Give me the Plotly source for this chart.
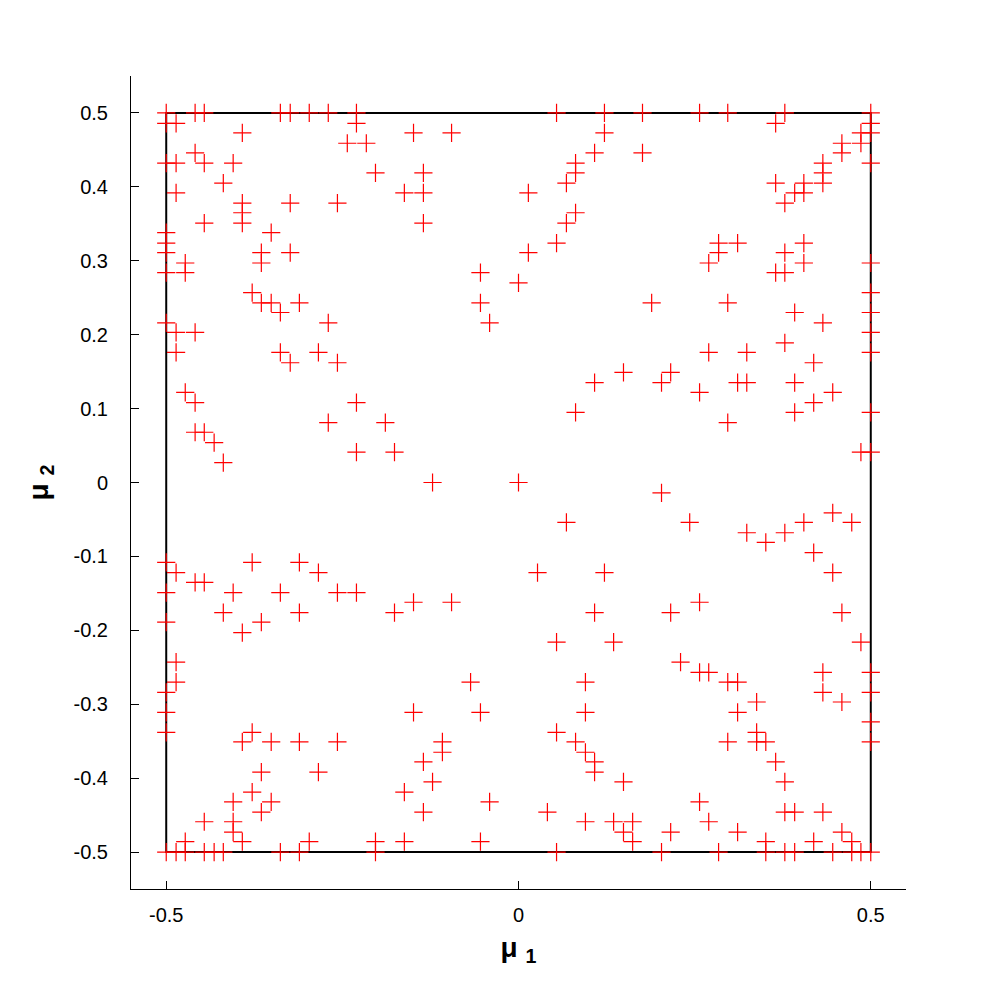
import plotly.graph_objects as go

# upper band of the sample set (mu2 from 0.5 down to 0.176)
mu1_upper = [
    -0.5, -0.459, -0.446, -0.338, -0.324, -0.297, -0.270, -0.230, 0.054, 0.122, 0.176, 0.257, 0.297, 0.378, 0.5,
    -0.5, -0.486, -0.230, 0.365, 0.5,
    -0.392, -0.149, -0.095, 0.122, 0.486, 0.5,
    -0.243, -0.216, 0.459, 0.486,
    -0.459, 0.108, 0.176, 0.459,
    -0.5, -0.486, -0.446, -0.405, 0.081, 0.432, 0.5,
    -0.203, -0.135, 0.081, 0.432,
    -0.419, 0.068, 0.365, 0.405, 0.432,
    -0.486, -0.162, -0.135, 0.014, 0.392, 0.405,
    -0.392, -0.324, -0.257, 0.378,
    -0.392, 0.081,
    -0.446, -0.392, -0.135, 0.068,
    -0.5, -0.351,
    -0.5, 0.054, 0.284, 0.311, 0.405,
    -0.5, -0.365, -0.324, 0.014, 0.284, 0.378,
    -0.473, -0.365, 0.270, 0.405, 0.5,
    -0.5, -0.473, -0.054, 0.365, 0.378,
    0.0,
    -0.378, 0.5,
    -0.365, -0.351, -0.311, -0.054, 0.189, 0.297,
    -0.338, 0.392, 0.5,
    -0.5, -0.270, -0.041, 0.432,
    -0.486, -0.459, 0.5,
    0.378,
    -0.486, -0.338, -0.284, 0.270, 0.324, 0.5,
]
mu2_upper = (
    [0.5] * 15 + [0.486] * 5 + [0.473] * 6 + [0.459] * 4 + [0.446] * 4
    + [0.432] * 7 + [0.419] * 4 + [0.405] * 5 + [0.392] * 6 + [0.378] * 4
    + [0.365] * 2 + [0.351] * 4 + [0.338] * 2 + [0.324] * 5 + [0.311] * 6
    + [0.297] * 5 + [0.284] * 5 + [0.270] * 1 + [0.257] * 2 + [0.243] * 6
    + [0.230] * 3 + [0.216] * 4 + [0.203] * 3 + [0.189] * 1 + [0.176] * 6
)

# middle band (mu2 from 0.162 down to -0.162)
mu1_middle = [
    -0.324, -0.257, 0.419,
    0.149, 0.216,
    0.108, 0.203, 0.311, 0.324, 0.392,
    -0.473, 0.257, 0.446,
    -0.459, -0.230, 0.419,
    0.081, 0.392, 0.5,
    -0.270, -0.189, 0.297,
    -0.459, -0.446,
    -0.432,
    -0.230, -0.176, 0.486, 0.5,
    -0.419,
    -0.122, 0.0,
    0.203,
    0.446,
    0.068, 0.243, 0.405, 0.473,
    0.324, 0.378,
    0.351,
    0.419,
    -0.5, -0.378, -0.311,
    -0.486, -0.284, 0.027, 0.122, 0.446,
    -0.459, -0.446,
    -0.5, -0.405, -0.338, -0.257, -0.230,
    -0.149, -0.095, 0.257,
]
mu2_middle = (
    [0.162] * 3 + [0.149] * 2 + [0.135] * 5 + [0.122] * 3 + [0.108] * 3
    + [0.095] * 3 + [0.081] * 3 + [0.068] * 2 + [0.054] * 1 + [0.041] * 4
    + [0.027] * 1 + [0.0] * 2 + [-0.014] * 1 + [-0.041] * 1 + [-0.054] * 4
    + [-0.068] * 2 + [-0.081] * 1 + [-0.095] * 1 + [-0.108] * 3 + [-0.122] * 5
    + [-0.135] * 2 + [-0.149] * 5 + [-0.162] * 3
)

# lower band (mu2 from -0.176 down to -0.5)
mu1_lower = [
    -0.419, -0.311, -0.176, 0.108, 0.216, 0.459,
    -0.5, -0.365,
    -0.392,
    0.054, 0.135, 0.486,
    -0.486, 0.230,
    0.257, 0.270, 0.432, 0.5,
    -0.486, -0.068, 0.095, 0.297, 0.311,
    -0.5, 0.432, 0.5,
    0.338, 0.459,
    -0.5, -0.149, -0.054, 0.095, 0.311,
    0.5,
    -0.5, -0.378, 0.054, 0.338,
    -0.392, -0.351, -0.311, -0.257, -0.108, 0.081, 0.297, 0.338, 0.351, 0.5,
    -0.108, 0.095,
    -0.135, 0.108, 0.365,
    -0.365, -0.284, 0.108,
    -0.122, 0.149, 0.378,
    -0.378, -0.162,
    -0.405, -0.351, -0.041, 0.257,
    -0.365, -0.135, 0.041, 0.378, 0.392, 0.432,
    -0.446, -0.405, 0.095, 0.135, 0.162, 0.270,
    -0.405, 0.149, 0.216, 0.311, 0.459,
    -0.473, -0.392, -0.297, -0.203, -0.162, -0.054, 0.162, 0.351, 0.419, 0.473,
    -0.5, -0.486, -0.473, -0.446, -0.432, -0.419, -0.338, -0.311, -0.203, 0.054,
    0.203, 0.284, 0.351, 0.378, 0.392, 0.446, 0.473, 0.486, 0.5,
]
mu2_lower = (
    [-0.176] * 6 + [-0.189] * 2 + [-0.203] * 1 + [-0.216] * 3 + [-0.243] * 2
    + [-0.257] * 4 + [-0.270] * 5 + [-0.284] * 3 + [-0.297] * 2 + [-0.311] * 5
    + [-0.324] * 1 + [-0.338] * 4 + [-0.351] * 10 + [-0.365] * 2 + [-0.378] * 3
    + [-0.392] * 3 + [-0.405] * 3 + [-0.419] * 2 + [-0.432] * 4 + [-0.446] * 6
    + [-0.459] * 6 + [-0.473] * 5 + [-0.486] * 10 + [-0.5] * 19
)

x_ticks = [-0.5, 0, 0.5]
x_tick_text = ['-0.5', '0', '0.5']
y_ticks = [0.5, 0.4, 0.3, 0.2, 0.1, 0, -0.1, -0.2, -0.3, -0.4, -0.5]
y_tick_text = ['0.5', '0.4', '0.3', '0.2', '0.1', '0', '-0.1', '-0.2', '-0.3', '-0.4', '-0.5']

mu1 = mu1_upper + mu1_middle + mu1_lower
mu2 = mu2_upper + mu2_middle + mu2_lower

fig = go.Figure()

# parameter domain boundary
fig.add_shape(type='rect', x0=-0.5, x1=0.5, y0=-0.5, y1=0.5,
              line=dict(color='black', width=2), layer='below')

fig.add_trace(go.Scatter(
    x=mu1, y=mu2, mode='markers',
    marker=dict(symbol='cross-thin', size=13, color='red',
                line=dict(color='red', width=1.2)),
    hoverinfo='x+y',
))

axis_font = dict(family='Liberation Sans, Arial', size=20, color='black')
title_font = dict(family='Liberation Sans, Arial', size=28, color='black')

# margins allow for the 8px page margin of the browser
fig.update_layout(
    width=999, height=1000,
    margin=dict(l=123, r=101, t=68, b=119),
    plot_bgcolor='white', paper_bgcolor='white',
    showlegend=False,
    xaxis=dict(range=[-0.55, 0.55], tickvals=x_ticks, ticktext=x_tick_text,
               showline=True, linecolor='black', linewidth=1,
               ticks='inside', ticklen=8, tickcolor='black',
               showgrid=False, zeroline=False, tickfont=axis_font,
               ticklabelstandoff=8, automargin=False,
               title=dict(text='<b>μ</b> <sub><b>1</b></sub>', font=title_font, standoff=12)),
    yaxis=dict(range=[-0.55, 0.55], tickvals=y_ticks, ticktext=y_tick_text,
               showline=True, linecolor='black', linewidth=1,
               ticks='inside', ticklen=8, tickcolor='black',
               showgrid=False, zeroline=False, tickfont=axis_font,
               ticklabelstandoff=18, automargin=False,
               title=dict(text='<b>μ</b> <sub><b>2</b></sub>', font=title_font, standoff=16)),
)

fig.write_html("out.html")
